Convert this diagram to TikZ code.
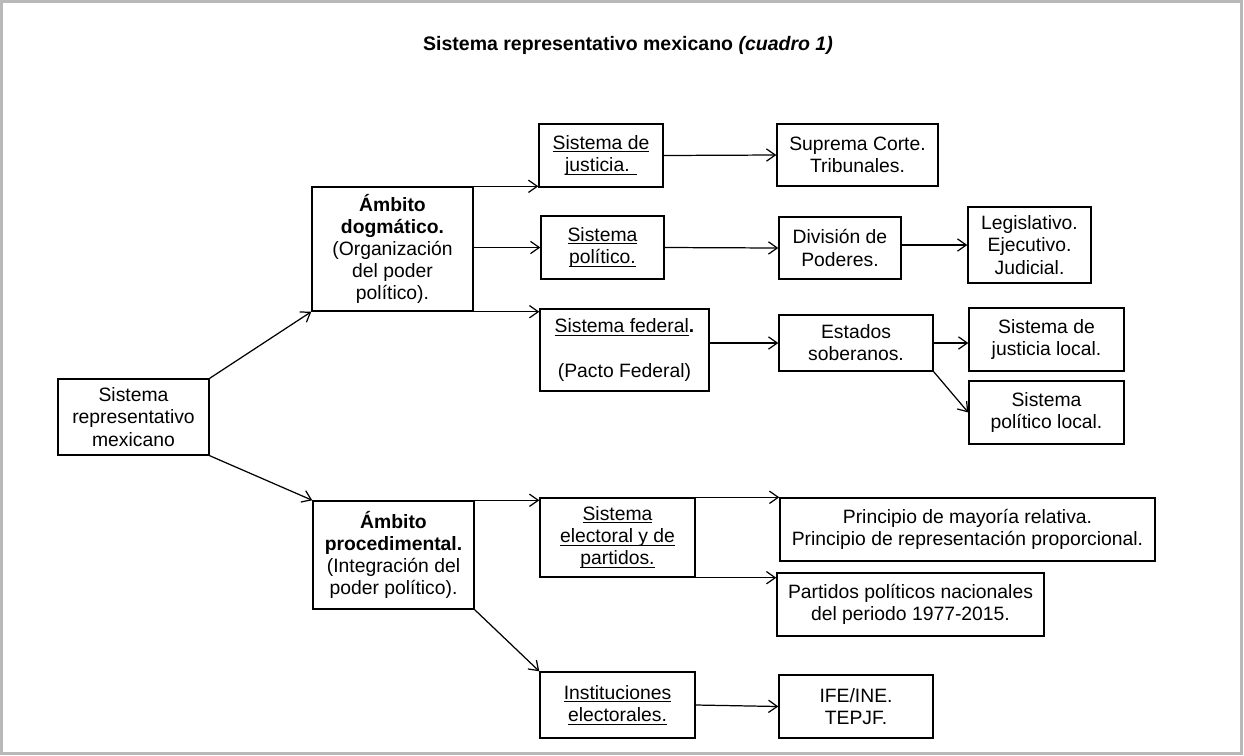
\documentclass[tikz,border=0pt]{standalone}
\usepackage{fontspec}
\setmainfont{Liberation Sans}
\usetikzlibrary{calc, arrows.meta}
\newcommand{\undl}[1]{\setbox0=\hbox{#1}\rlap{\rule[-1.7pt]{\wd0}{0.55pt}}\box0}

\begin{document}
\begin{tikzpicture}[x=0.02cm, y=-0.02cm,
		box/.style={draw, line width=0.8pt, align=center, inner sep=0pt, font=\fontsize{11}{12.6}\selectfont},
		sz/.style 2 args={minimum width=#1*0.02cm, minimum height=#2*0.02cm},
		arr/.style={line width=0.7pt, -{Straight Barb[length=5pt, width=7pt]}}]
			\def\W{1244};
			\def\H{755};

			\fill [white] (0,0) rectangle (\W,\H);
			\draw [gray!55, line width=1.7pt] (1.5,1.5) rectangle (1241.5,753);
			\useasboundingbox (0,0) rectangle (\W,\H);

			\node (title) at (628,45) {\fontsize{11.1}{13}\selectfont\bfseries Sistema representativo mexicano \textit{(cuadro 1)}};

			\begin{scope}
				\node [box, sz={151}{76}] (root) at (133.5,417) {Sistema\\representativo\\mexicano};

				\node [box, sz={161}{124}] (dog) at (392.5,249) {\textbf{Ámbito}\\\textbf{dogmático.}\\(Organización\\del poder\\político).};
				\node [box, sz={161}{108}] (pro) at (393.5,555) {\textbf{Ámbito}\\\textbf{procedimental.}\\(Integración del\\poder político).};

				\node [box, sz={124}{63}] (jus) at (601,155.5) {\undl{Sistema de}\\\undl{justicia. }};
				\node [box, sz={123}{63}] (pol) at (602.5,247.5) {\undl{Sistema}\\\undl{político.}};
				\node [box, sz={169}{82}] (fed) at (624.5,350) {\undl{Sistema federal}\textbf{.}\\[12.6pt](Pacto Federal)};
				\node [box, sz={155}{79}] (ele) at (617.5,537.5) {\undl{Sistema}\\\undl{electoral y de}\\\undl{partidos.}};
				\node [box, sz={155}{66}] (ins) at (617.5,705) {\undl{Instituciones}\\\undl{electorales.}};

				\node [box, sz={161}{62}] (sup) at (857.5,155) {Suprema Corte.\\Tribunales.};
				\node [box, sz={122}{62}] (div) at (840,248) {División de\\Poderes.};
				\node [box, sz={154}{56}] (est) at (856,343) {Estados\\soberanos.};
				\node [box, sz={375}{63}] (pri) at (967.5,529.5) {Principio de mayoría relativa.\\Principio de representación proporcional.};
				\node [box, sz={267}{63}] (par) at (910.5,604.5) {Partidos políticos nacionales\\del periodo 1977-2015.};
				\node [box, sz={154}{63}] (ife) at (856,706.5) {IFE/INE.\\TEPJF.};

				\node [box, sz={123}{76}] (leg) at (1029.5,245) {Legislativo.\\Ejecutivo.\\Judicial.};
				\node [box, sz={155}{63}] (jlo) at (1046.5,339.5) {Sistema de\\justicia local.};
				\node [box, sz={155}{63}] (plo) at (1046.5,412.5) {Sistema\\político local.};
			\end{scope}

			\begin{scope}
				\draw [arr] (root.north east) -- (dog.south west);
				\draw [arr] (root.south east) -- (pro.north west);

				\draw [arr] (dog.north east) -- (dog.north east -| jus.west);
				\draw [arr] (pol.west -| dog.east) -- (pol.west);
				\draw [arr] (dog.south east) -- (dog.south east -| fed.west);

				\draw [arr] (jus.east) -- (sup.west);
				\draw [arr] (pol.east) -- (div.west);
				\draw [arr] (est.west -| fed.east) -- (est.west);

				\draw [arr] (leg.west -| div.east) -- (leg.west);
				\draw [arr] (est.east) -- (est.east -| jlo.west);
				\draw [arr] (est.south east) -- (plo.west);

				\draw [arr] (pro.north east) -- (pro.north east -| ele.west);
				\draw [arr] (pro.south east) -- (ins.north west);

				\draw [arr] (ele.north east) -- (pri.north west);
				\draw [arr] (ele.south east) -- (ele.south east -| par.west);
				\draw [arr] (ins.east) -- (ife.west);
			\end{scope}
		\end{tikzpicture}
\end{document}
